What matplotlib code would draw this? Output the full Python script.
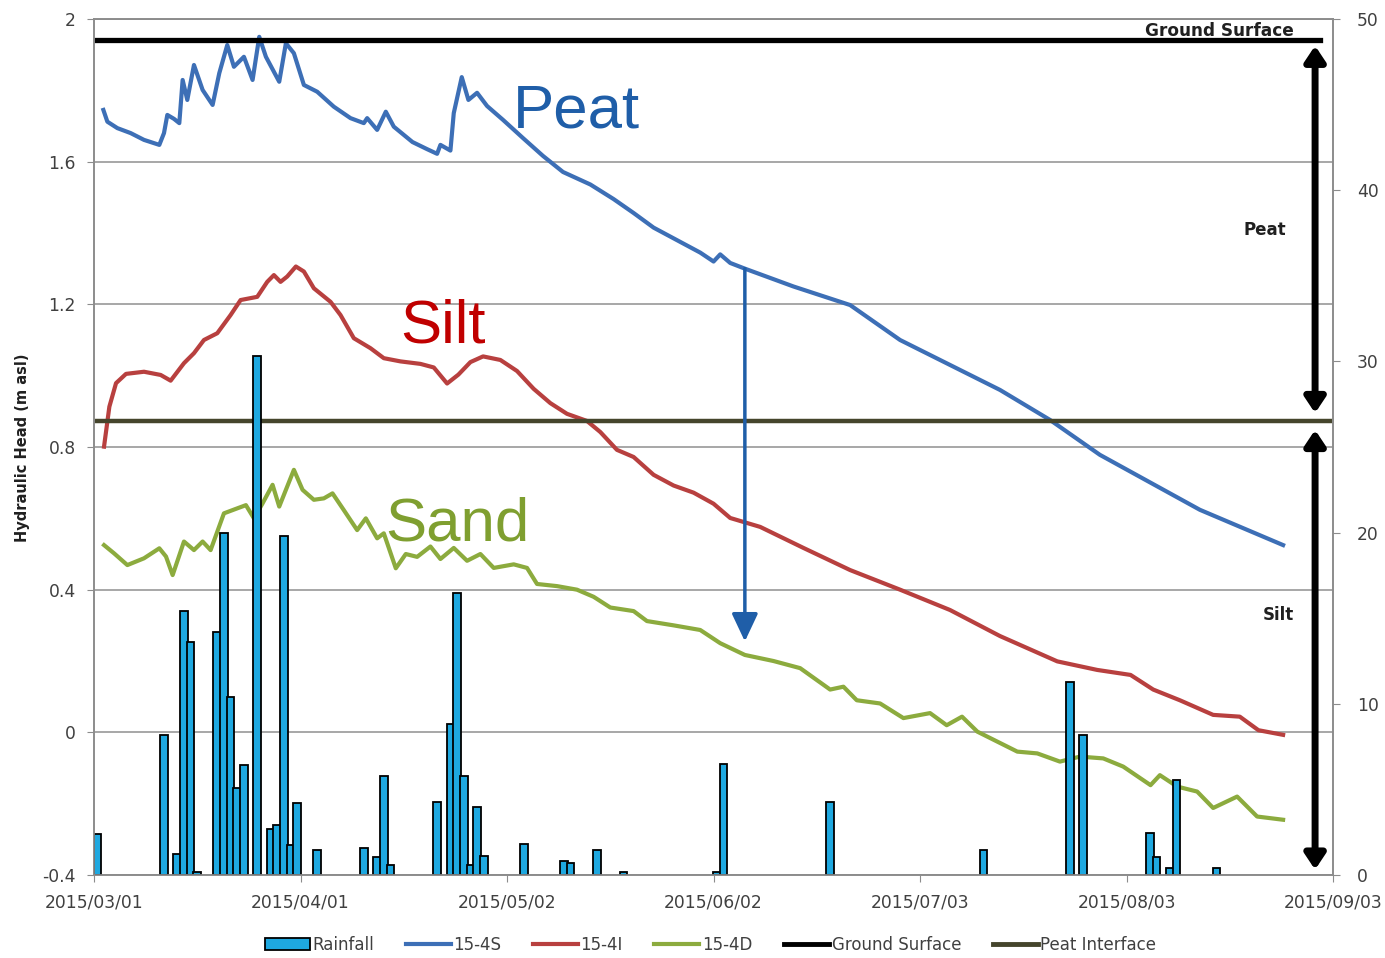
import numpy as np
import matplotlib
matplotlib.use('Agg')
import matplotlib.pyplot as plt
from matplotlib.patches import Patch
from matplotlib.lines import Line2D

# x axis = days since 2015/03/01
tick_days = [0, 31, 62, 93, 124, 155, 186]
tick_labels = ['2015/03/01', '2015/04/01', '2015/05/02', '2015/06/02',
               '2015/07/03', '2015/08/03', '2015/09/03']

# daily rainfall (mm), right axis
rain_days = [0, 10, 12, 13, 14, 15, 18, 19, 20, 21, 22, 24, 26, 27, 28, 29, 30, 33,
             40, 42, 43, 44, 51, 53, 54, 55, 56, 57, 58, 64, 70, 71, 75, 79, 93, 94,
             110, 133, 146, 148, 158, 159, 161, 162, 168]
rain_mm = [2.4, 8.2, 1.2, 15.4, 13.6, 0.2, 14.2, 20.0, 10.4, 5.1, 6.4, 30.3, 2.7, 2.9,
           19.8, 1.75, 4.2, 1.46, 1.6, 1.05, 5.8, 0.6, 4.26, 8.8, 16.5, 5.8, 0.6, 4.0,
           1.1, 1.8, 0.8, 0.7, 1.46, 0.17, 0.15, 6.5, 4.26, 1.46, 11.3, 8.2, 2.45, 1.05,
           0.4, 5.55, 0.4]

# 15-4S (peat)
peat_days = [1.4, 2.0, 3.5, 5.5, 7.5, 9.8, 10.5, 11.0, 12.0, 12.8, 13.3, 14.0, 15.0,
             16.3, 17.8, 18.8, 20.0, 21.0, 22.5, 23.8, 24.8, 25.8, 27.8, 28.8, 30.0,
             31.5, 33.5, 36.0, 38.5, 40.5, 41.0, 42.5, 43.8, 45.0, 47.8, 50.0, 51.5,
             52.0, 53.5, 54.0, 55.2, 56.2, 57.5, 59.0, 61.4, 64.4, 67.4, 70.4, 74.5,
             78.0, 81.0, 84.0, 88.0, 91.0, 93.0, 94.0, 95.5, 97.7, 105.0, 113.5, 121.0,
             136.0, 143.5, 151.0, 166.0, 178.5]
peat_head = [1.745, 1.712, 1.694, 1.680, 1.661, 1.647, 1.680, 1.731, 1.720, 1.708,
             1.829, 1.773, 1.871, 1.801, 1.759, 1.848, 1.927, 1.866, 1.894, 1.829,
             1.950, 1.894, 1.824, 1.932, 1.904, 1.815, 1.796, 1.754, 1.722, 1.708,
             1.722, 1.689, 1.740, 1.698, 1.655, 1.635, 1.622, 1.647, 1.631, 1.736,
             1.837, 1.773, 1.793, 1.756, 1.717, 1.666, 1.616, 1.571, 1.536, 1.495,
             1.456, 1.415, 1.375, 1.345, 1.320, 1.340, 1.316, 1.300, 1.250, 1.198,
             1.100, 0.960, 0.876, 0.778, 0.624, 0.525]

# 15-4I (silt)
silt_days = [1.5, 2.3, 3.3, 4.8, 7.5, 10.0, 11.5, 13.5, 15.0, 16.5, 18.5, 20.5, 22.0,
             24.5, 26.0, 27.0, 28.0, 29.0, 30.3, 31.5, 33.0, 35.5, 37.0, 39.0, 41.5,
             43.5, 46.0, 49.0, 51.0, 53.0, 54.7, 56.5, 58.4, 61.0, 63.5, 66.0, 68.5,
             71.0, 74.0, 76.0, 78.5, 81.0, 84.0, 87.0, 90.0, 93.0, 95.5, 100.0, 106.5,
             113.5, 121.0, 128.5, 136.0, 144.6, 150.6, 155.6, 159.0, 163.0, 168.0,
             172.0, 174.8, 178.5]
silt_head = [0.801, 0.913, 0.979, 1.005, 1.011, 1.002, 0.986, 1.035, 1.063, 1.100,
             1.119, 1.170, 1.212, 1.221, 1.263, 1.282, 1.263, 1.278, 1.306, 1.292,
             1.245, 1.207, 1.170, 1.105, 1.077, 1.049, 1.040, 1.033, 1.023, 0.978,
             1.003, 1.038, 1.054, 1.044, 1.013, 0.963, 0.923, 0.893, 0.873, 0.842,
             0.792, 0.772, 0.722, 0.692, 0.672, 0.641, 0.601, 0.576, 0.517, 0.455,
             0.400, 0.343, 0.270, 0.199, 0.175, 0.161, 0.120, 0.090, 0.049, 0.044,
             0.006, -0.007]

# 15-4D (sand)
sand_days = [1.5, 3.0, 5.0, 7.5, 9.8, 10.8, 11.8, 13.5, 15.0, 16.3, 17.5, 19.5, 21.5,
             22.8, 24.0, 25.3, 26.8, 27.8, 30.0, 31.3, 33.0, 34.5, 35.8, 37.5, 39.5,
             40.8, 42.5, 43.5, 45.3, 46.8, 48.5, 50.5, 52.0, 54.0, 56.0, 58.0, 60.0,
             63.0, 65.0, 66.5, 69.5, 72.5, 75.0, 77.5, 81.0, 83.0, 87.0, 91.0, 94.0,
             97.7, 102.0, 106.0, 110.5, 112.5, 114.5, 118.0, 121.5, 125.5, 128.0,
             130.3, 132.6, 135.6, 138.6, 141.6, 145.0, 148.0, 151.5, 154.5, 158.6,
             160.0, 162.6, 165.6, 168.0, 171.6, 174.6, 178.5]
sand_head = [0.525, 0.502, 0.469, 0.488, 0.516, 0.493, 0.441, 0.535, 0.511, 0.535,
             0.511, 0.614, 0.628, 0.637, 0.600, 0.642, 0.694, 0.633, 0.736, 0.680,
             0.652, 0.656, 0.670, 0.623, 0.567, 0.600, 0.544, 0.558, 0.460, 0.500,
             0.492, 0.521, 0.486, 0.517, 0.481, 0.500, 0.461, 0.471, 0.461, 0.416,
             0.410, 0.400, 0.380, 0.350, 0.340, 0.312, 0.300, 0.287, 0.250, 0.217,
             0.200, 0.180, 0.120, 0.128, 0.090, 0.081, 0.040, 0.054, 0.020, 0.044,
             0.002, -0.026, -0.054, -0.059, -0.082, -0.068, -0.073, -0.096, -0.148,
             -0.120, -0.152, -0.166, -0.212, -0.180, -0.236, -0.245]

ground_level = 1.94
interface_level = 0.873

text_col = '#404040'
axis_col = '#8c8c8c'
c_peat = '#3d6fb6'
c_silt = '#b8403f'
c_sand = '#8cab3e'
c_rain = '#1ea8e0'
c_iface = '#45452c'

fig = plt.figure(figsize=(13.85, 9.58), dpi=100)
ax = fig.add_axes([0.0679, 0.0866, 0.8946, 0.8936])
ax2 = ax.twinx()

# rainfall bars on the secondary axis
ax2.bar(np.array(rain_days) + 0.5, rain_mm, width=1.15, color=c_rain,
        edgecolor='black', linewidth=1.3)

# hydraulic head lines
ax.plot(peat_days, peat_head, color=c_peat, lw=3)
ax.plot(silt_days, silt_head, color=c_silt, lw=3)
ax.plot(sand_days, sand_head, color=c_sand, lw=3)
ax.plot([0, 184], [ground_level, ground_level], color='black', lw=3.8)
ax.plot([0, 185.5], [interface_level, interface_level], color=c_iface, lw=3.2)

ax.set_xlim(0, 186)
ax.set_ylim(-0.4, 2)
ax2.set_ylim(0, 50)
ax.set_xticks(tick_days)
ax.set_xticklabels(tick_labels)
ax.set_yticks([-0.4, 0, 0.4, 0.8, 1.2, 1.6, 2])
ax.set_yticklabels(['-0.4', '0', '0.4', '0.8', '1.2', '1.6', '2'])
ax2.set_yticks([0, 10, 20, 30, 40, 50])

ax.yaxis.grid(True, color='#a0a0a0', lw=1.3)
ax.set_axisbelow(True)
for a in (ax, ax2):
    for s in a.spines.values():
        s.set_color(axis_col)
        s.set_linewidth(1.2)
    a.tick_params(colors=axis_col, labelcolor=text_col, labelsize=12.3, length=5)
ax.tick_params(axis='y', pad=8)
ax.tick_params(axis='x', pad=8)
ax2.tick_params(axis='y', pad=12)

# labels in the plot
big = dict(fontsize=44.5, family='Liberation Sans', ha='left', va='baseline')
ax.text(62.9, 1.697, 'Peat', color='#1f5ea8', **big)
ax.text(45.9, 1.092, 'Silt', color='#c00000', **big)
ax.text(43.7, 0.539, 'Sand', color='#7f9f30', **big)

ax.text(169, 1.966, 'Ground Surface', fontsize=12.2, fontweight='bold',
        color='#202020', ha='center', va='center')
ax.text(175.8, 1.408, 'Peat', fontsize=12, fontweight='bold', color='#202020',
        ha='center', va='center')
ax.text(177.8, 0.329, 'Silt', fontsize=12, fontweight='bold', color='#202020',
        ha='center', va='center')

# thickness arrows
dbl = dict(arrowstyle='<|-|>,head_length=0.45,head_width=0.3', lw=5,
           color='black', shrinkA=0, shrinkB=0, mutation_scale=20)
ax.annotate('', xy=(183.3, 1.925), xytext=(183.3, 0.895), arrowprops=dbl,
            annotation_clip=False)
ax.annotate('', xy=(183.3, 0.848), xytext=(183.3, -0.385), arrowprops=dbl,
            annotation_clip=False)

# head drop arrow
ax.annotate('', xy=(97.7, 0.255), xytext=(97.7, 1.30),
            arrowprops=dict(arrowstyle='-|>,head_length=0.85,head_width=0.4',
                            lw=2.5, color='#1f5ea8', shrinkA=0, shrinkB=0,
                            mutation_scale=20))

fig.text(0.016, 0.533, 'Hydraulic Head (m asl)', rotation=90, fontsize=10.5,
         fontweight='bold', color='#202020', ha='center', va='center')

handles = [Patch(facecolor=c_rain, edgecolor='black', linewidth=1.3),
           Line2D([], [], color=c_peat, lw=3),
           Line2D([], [], color=c_silt, lw=3),
           Line2D([], [], color=c_sand, lw=3),
           Line2D([], [], color='black', lw=3.5),
           Line2D([], [], color=c_iface, lw=3.5)]
labels = ['Rainfall', '15-4S', '15-4I', '15-4D', 'Ground Surface', 'Peat Interface']
leg = fig.legend(handles, labels, loc='lower center', bbox_to_anchor=(0.513, -0.011),
                 ncol=6, frameon=False, fontsize=12, handlelength=2.7,
                 handletextpad=0.15, columnspacing=1.9)
for t in leg.get_texts():
    t.set_color(text_col)

fig.savefig('out.png', dpi=100)
